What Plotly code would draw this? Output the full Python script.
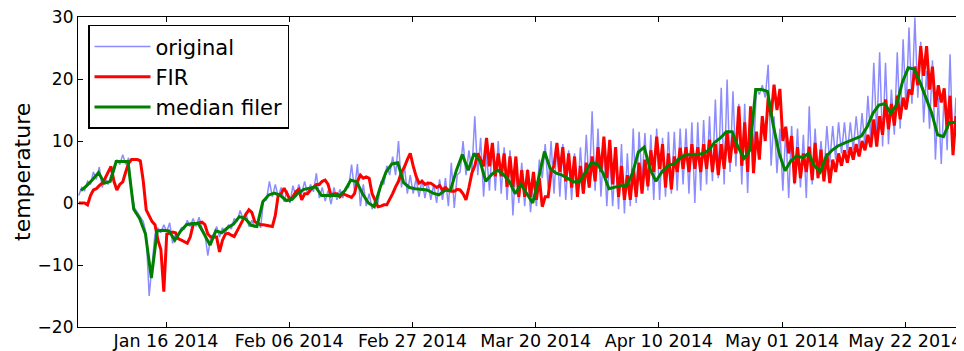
import pandas as pd
import plotly.graph_objects as go

# ---- data (values in degrees) ----
# original signal: one value at 03:00 and one at 15:00 for each day, Jan 1 .. May 31 2014
orig_03h = [1.2, 2.0, 3.0, 3.8, 2.5, 3.0, 5.0, 6.2, 6.2, 2.0,
            -1.5, -3.0, -15.0, -5.0, -4.8, -4.6, -6.5, -5.2, -4.2, -3.8,
            -3.8, -4.0, -8.5, -5.0, -5.5, -5.0, -4.2, -3.0, -2.5, -3.8,
            -4.0, -4.0, 0.5, 1.0, 1.0, 0.2, 0.0, 1.0, 1.5, 1.5,
            1.8, 0.8, 0.3, -0.2, 0.5, 0.8, 2.5, 2.0, -0.5, -0.5,
            -1.0, 0.0, 3.0, 4.5, 4.5, 2.5, 1.5, 1.5, 1.0, 0.8,
            0.5, 0.0, 0.5, -0.5, -0.8, 5.0, 4.5, 5.0, 4.5, 1.0,
            2.0, 2.0, 1.5, 0.5, -2.0, 0.0, -0.5, -1.5, -0.5, 4.0,
            2.5, 1.5, 1.0, 0.5, 0.5, 1.0, 1.5, 2.5, 2.0, 1.0,
            -0.5, -0.5, -1.0, -1.7, -0.5, 0.0, 3.5, 2.0, 0.5, 0.5,
            1.0, 1.5, 2.0, 3.0, 1.5, 0.0, 2.0, 3.0, 3.5, 4.0,
            3.0, 5.0, 5.9, 3.0, 1.6, 8.0, 17.5, 17.0, 6.0, 4.8,
            2.0, 0.8, 3.0, 2.5, 0.8, 3.0, 4.0, 4.5, 6.5, 7.0,
            8.0, 8.0, 8.5, 9.0, 9.0, 10.0, 11.0, 9.1, 9.5, 11.0,
            12.0, 15.0, 16.0, 17.0, 13.0, 12.0, 7.0, 6.3, 8.5, 8.0,
            10.0]
orig_15h = [2.5, 3.5, 5.0, 5.8, 4.0, 4.5, 7.0, 7.8, 7.3, -0.8,
            -2.2, -5.0, -10.0, -4.0, -3.5, -3.2, -5.0, -4.0, -2.8, -2.5,
            -2.3, -5.0, -5.5, -3.8, -4.0, -3.5, -2.5, -1.2, -1.5, -2.8,
            -3.0, 0.5, 3.5, 3.0, 2.5, 2.0, 2.8, 3.0, 3.5, 3.0,
            4.8, 2.5, 2.0, 2.5, 2.2, 2.5, 6.2, 6.3, 3.0, 1.5,
            0.5, 3.5, 6.0, 7.5, 10.0, 6.0, 4.5, 4.0, 3.8, 3.5,
            3.0, 3.8, 4.0, 6.5, 4.5, 10.0, 8.5, 14.0, 10.5, 8.0,
            9.5, 10.0, 9.0, 8.5, 6.0, 6.5, 5.5, 4.0, 7.0, 9.5,
            10.0, 9.5, 9.5, 8.5, 8.0, 9.0, 11.0, 14.8, 12.0, 9.5,
            8.0, 8.0, 9.5, 8.0, 12.0, 11.5, 11.3, 11.0, 12.0, 10.5,
            11.5, 11.5, 12.0, 12.0, 13.0, 13.0, 13.4, 14.0, 16.7, 18.6,
            19.9, 18.0, 16.0, 16.0, 15.0, 18.5, 19.0, 22.3, 14.0, 12.0,
            11.9, 12.4, 12.0, 11.0, 15.6, 12.0, 10.0, 12.4, 12.4, 13.0,
            13.0, 13.0, 14.0, 14.5, 17.3, 22.6, 24.3, 22.6, 18.3, 24.3,
            26.4, 28.3, 29.9, 26.0, 21.3, 23.0, 17.0, 18.0, 24.0, 17.0,
            24.8]

# FIR filtered signal at the same times
fir_03h = [0.0, 0.0, 1.2, 2.3, 3.2, 5.0, 3.5, 3.0, 5.0, 7.0,
           7.0, 3.5, -2.0, -3.5, -7.5, -5.0, -4.7, -5.8, -6.3, -5.5,
           -3.3, -3.1, -5.0, -5.5, -7.9, -5.0, -5.2, -4.5, -2.5, -1.1,
           -3.0, -3.5, -3.6, -3.8, 1.3, 2.4, 0.5, 1.8, 0.5, 1.5,
           2.5, 3.0, 3.7, 1.2, 1.5, 1.5, 1.0, 1.5, 4.5, 4.2,
           1.5, -0.6, -0.3, 0.5, 2.6, 5.0, 7.0, 6.0, 3.2, 3.0,
           3.2, 2.5, 2.1, 2.0, 1.9, 2.1, 0.5, 4.8, 8.0, 5.9,
           5.9, 4.3, 4.3, 2.6, 2.6, 1.0, 1.0, 1.0, 0.5, -0.6,
           1.0, 6.0, 5.0, 3.5, 2.5, 1.0, 1.5, 2.5, 3.5, 5.0,
           4.0, 3.0, 1.0, 0.5, 0.5, 1.0, 1.5, 2.7, 5.0, 5.5,
           2.5, 2.2, 5.0, 5.5, 5.0, 5.5, 5.0, 5.5, 5.0, 4.5,
           5.5, 6.5, 8.0, 6.0, 5.0, 4.8, 7.0, 10.0, 14.0, 15.0,
           10.0, 8.0, 3.2, 4.0, 5.0, 3.7, 4.0, 3.5, 3.2, 5.0,
           6.0, 6.5, 7.0, 7.5, 8.5, 9.0, 9.1, 11.0, 11.9, 12.5,
           13.5, 15.1, 17.5, 19.0, 20.5, 18.3, 15.5, 16.2, 12.0, 7.7,
           10.8]
fir_15h = [0.0, -0.3, 2.1, 2.8, 4.0, 5.9, 2.1, 3.4, 6.4, 7.0,
           6.8, -1.1, -3.0, -6.0, -14.3, -4.8, -4.8, -6.0, -6.5, -3.5,
           -3.2, -3.5, -5.5, -5.5, -6.0, -4.9, -5.4, -3.6, -1.8, -1.5,
           -3.3, -3.5, -3.6, -2.0, 1.5, 1.5, 1.0, 2.2, 1.5, 2.1,
           3.0, 3.5, 3.0, 1.5, 1.0, 1.3, 0.9, 3.5, 4.0, 4.0,
           0.5, -0.5, -0.3, 1.5, 3.5, 5.8, 8.0, 4.3, 3.5, 3.2,
           2.8, 2.8, 2.5, 1.9, 2.2, 1.5, 2.5, 6.0, 7.0, 10.5,
           9.7, 8.0, 8.0, 7.5, 7.5, 5.3, 5.3, 5.0, 4.0, 1.0,
           5.0, 9.7, 9.0, 8.0, 7.5, 6.0, 6.5, 7.5, 9.0, 10.7,
           10.2, 9.0, 6.0, 4.5, 5.5, 6.5, 7.0, 8.5, 10.7, 9.5,
           8.0, 7.5, 8.9, 9.0, 9.5, 9.0, 9.5, 10.2, 9.5, 9.5,
           11.3, 11.0, 15.6, 13.0, 15.6, 11.5, 14.0, 17.0, 19.1, 18.4,
           12.3, 10.8, 9.0, 8.0, 9.1, 9.7, 8.6, 8.0, 7.0, 8.0,
           8.5, 9.0, 9.5, 10.0, 11.0, 13.5, 14.0, 16.7, 16.0, 17.3,
           17.0, 18.3, 22.0, 25.3, 25.3, 22.0, 19.0, 18.5, 17.3, 14.0,
           17.0]

# median filtered signal, one value per day (at noon)
median_daily = [2.0, 2.8, 3.8, 4.9, 3.2, 3.5, 6.7, 6.7, 6.7, -1.0,
                -2.5, -5.0, -12.1, -4.5, -4.4, -4.5, -6.0, -4.5, -3.5, -3.3,
                -3.3, -5.0, -6.8, -4.5, -4.8, -4.0, -3.4, -2.2, -2.5, -3.6,
                -3.8, 0.2, 1.3, 1.6, 1.2, 0.4, 0.6, 1.6, 2.2, 2.4,
                2.6, 1.2, 1.2, 1.2, 1.2, 2.0, 3.7, 3.4, 1.5, 0.0,
                -0.6, 2.5, 5.0, 6.3, 6.5, 3.3, 2.5, 2.3, 2.2, 2.1,
                1.6, 1.3, 2.0, 2.1, 5.3, 7.8, 5.3, 8.0, 6.8, 3.5,
                4.6, 5.3, 4.6, 3.5, 1.5, 3.0, 1.5, 0.0, 4.0, 8.3,
                5.5, 4.8, 4.5, 4.0, 3.4, 3.5, 5.0, 6.5, 6.3, 4.8,
                2.3, 2.6, 2.8, 2.8, 4.8, 8.2, 9.0, 5.5, 3.5, 5.0,
                6.0, 6.3, 7.2, 7.8, 7.8, 7.8, 8.0, 8.5, 9.8, 10.5,
                11.5, 11.5, 9.0, 7.2, 8.5, 18.3, 18.3, 18.0, 12.5, 8.0,
                5.2, 6.8, 7.6, 7.3, 8.0, 6.0, 5.0, 7.5, 8.5, 9.2,
                9.6, 10.0, 10.5, 10.8, 12.3, 14.5, 15.8, 16.0, 14.5, 15.8,
                19.5, 21.8, 21.6, 19.5, 17.0, 14.5, 11.0, 10.7, 13.0, 13.0,
                14.0]

tick_dates = ["2014-01-16", "2014-02-06", "2014-02-27", "2014-03-20",
              "2014-04-10", "2014-05-01", "2014-05-22"]
tick_labels = ["Jan 16 2014", "Feb 06 2014", "Feb 27 2014", "Mar 20 2014",
               "Apr 10 2014", "May 01 2014", "May 22 2014"]
y_ticks = [-20, -10, 0, 10, 20, 30]

# ---- assemble series ----
t12 = pd.date_range("2014-01-01 03:00", periods=2 * len(orig_03h), freq="12h")
orig = [v for pair in zip(orig_03h, orig_15h) for v in pair]
fir = [v for pair in zip(fir_03h, fir_15h) for v in pair]
t_med = pd.date_range("2014-01-01 12:00", periods=len(median_daily), freq="D")

font = "DejaVu Sans, Bitstream Vera Sans, sans-serif"

# the page body adds an 8 px offset, so the figure is 8 px smaller on each side
fig = go.Figure()
fig.add_trace(go.Scatter(x=t12, y=orig, mode="lines", name="original",
                         line=dict(color="rgba(0,0,255,0.45)", width=1.5),
                         legendgroup="a"))
fig.add_trace(go.Scatter(x=t12, y=fir, mode="lines", name="FIR",
                         line=dict(color="#ff0000", width=3),
                         legendgroup="b"))
fig.add_trace(go.Scatter(x=t_med, y=median_daily, mode="lines", name="median filer",
                         line=dict(color="#008000", width=3),
                         legendgroup="c"))

fig.update_layout(
    width=956, height=343,
    margin=dict(l=70, r=0, t=9, b=24, autoexpand=False),
    paper_bgcolor="white", plot_bgcolor="white",
    font=dict(family=font, size=17, color="black"),
    showlegend=True,
    legend=dict(x=0.0113, y=0.975, xanchor="left", yanchor="top",
                bgcolor="white", bordercolor="black", borderwidth=1.5,
                font=dict(size=21), tracegroupgap=0, itemwidth=56),
    annotations=[dict(text="temperature", textangle=-90, xref="paper", yref="paper",
                      x=-56 / 886, y=0.5, xanchor="center", yanchor="middle",
                      showarrow=False, borderpad=0, font=dict(size=22))],
)
fig.update_xaxes(
    range=["2014-01-01", "2014-06-01"],
    tickvals=tick_dates, ticktext=tick_labels,
    showline=True, linecolor="black", linewidth=1.2, mirror="ticks",
    ticks="inside", ticklen=5, tickcolor="black",
    showgrid=False, zeroline=False, automargin=False,
    ticklabeloverflow="allow", ticklabelstandoff=-2,
    tickfont=dict(size=17.5),
)
fig.update_yaxes(
    range=[-20, 30], tickvals=y_ticks,
    showline=True, linecolor="black", linewidth=1.2, mirror="ticks",
    ticks="inside", ticklen=5, tickcolor="black",
    showgrid=False, zeroline=False, automargin=False,
    ticklabeloverflow="allow",
    tickfont=dict(size=17),
)

fig.write_html("out.html")
